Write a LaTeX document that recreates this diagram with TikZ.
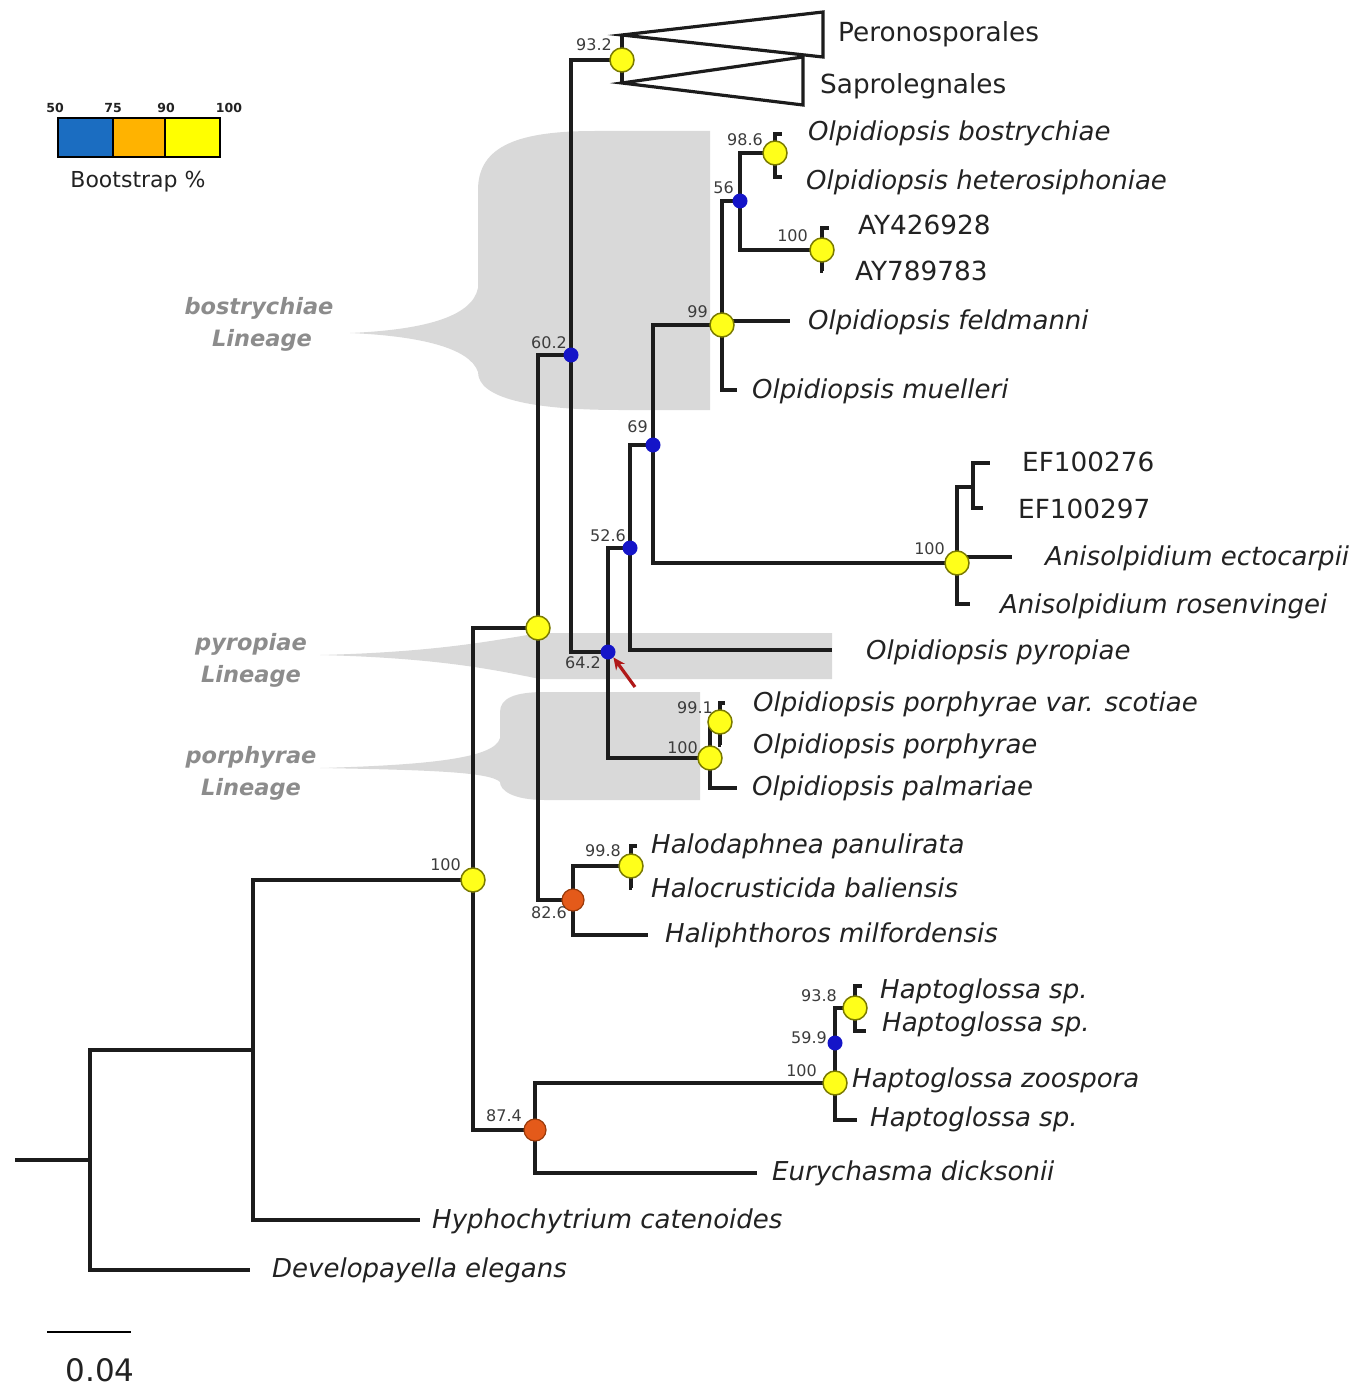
\documentclass[tikz,border=0pt]{standalone}
\usepackage{fontspec}
\setmainfont{DejaVu Sans}
\usetikzlibrary{arrows.meta}
\definecolor{lin}{HTML}{1C1C1C}
\definecolor{txt}{HTML}{222222}
\definecolor{bsg}{HTML}{3C3C3C}
\definecolor{lgshade}{HTML}{D9D9D9}
\definecolor{lingray}{HTML}{8C8C8C}
\definecolor{yel}{HTML}{FFFF1A}
\definecolor{yeld}{HTML}{7A7A00}
\definecolor{blu}{HTML}{1414C8}
\definecolor{org}{HTML}{E45A1A}
\definecolor{orgd}{HTML}{9A3A0A}
\definecolor{legblue}{HTML}{1B6DC1}
\definecolor{legorg}{HTML}{FFB300}
\definecolor{legyel}{HTML}{FFFF00}
\definecolor{arr}{HTML}{B01818}
\begin{document}
\begin{tikzpicture}[x=1pt,y=-1pt,
  br/.style={line width=3.2pt, draw=lin, line join=miter},
  lab/.style={anchor=mid west, inner sep=0pt, yshift=-6pt, text=txt, font=\fontsize{26}{30}\selectfont\itshape},
  labu/.style={anchor=mid west, inner sep=0pt, yshift=-6pt, text=txt, font=\fontsize{26.3}{30}\selectfont},
  bs/.style={anchor=mid east, inner sep=0pt, yshift=-3pt, text=bsg, font=\fontsize{16}{18}\selectfont},
  lin/.style={inner sep=0pt, yshift=-3pt, text=lingray, font=\fontsize{22.5}{26}\selectfont\bfseries\itshape},
  yc/.style={circle, fill=yel, draw=yeld, line width=1.5pt, minimum size=24pt, inner sep=0pt},
  bc/.style={circle, fill=blu, minimum size=15pt, inner sep=0pt},
  oc/.style={circle, fill=org, draw=orgd, line width=1.2pt, minimum size=22pt, inner sep=0pt}]
\useasboundingbox (0,0) rectangle (1366,1391);

% ---------- lineage shading ----------
\fill[lgshade] (350,333) .. controls (420,330) and (472,318) .. (478,288)
  -- (478,190) .. controls (478,145) and (520,131) .. (595,131) -- (710,131) -- (710,410) -- (620,410)
  .. controls (530,410) and (478,398) .. (478,372)
  .. controls (470,348) and (420,336) .. (350,333) -- cycle;
\fill[lgshade] (320,655) .. controls (440,652) and (495,640) .. (540,633) -- (832,633) -- (832,679) -- (540,679)
  .. controls (495,670) and (440,658) .. (320,655) -- cycle;
\fill[lgshade] (320,768) .. controls (430,765) and (495,758) .. (500,738) -- (500,712)
  .. controls (500,698) and (515,692) .. (545,692) -- (700,692) -- (700,800) -- (545,800)
  .. controls (512,800) and (500,790) .. (500,782) .. controls (490,772) and (430,770) .. (320,768) -- cycle;

\node[lin] (Lb1) at (259,305) {bostrychiae};
\node[lin] (Lb2) at (262,337) {Lineage};
\node[lin] (Lp1) at (251,641) {pyropiae};
\node[lin] (Lp2) at (251,673) {Lineage};
\node[lin] (Lq1) at (251,754) {porphyrae};
\node[lin] (Lq2) at (251,786) {Lineage};

% ---------- legend ----------
\fill[legblue] (58,118) rectangle (113,157);
\fill[legorg] (113,118) rectangle (165,157);
\fill[legyel] (165,118) rectangle (220,157);
\draw[line width=2.8pt] (58,118) rectangle (220,157);
\draw[line width=2.2pt] (113,118) -- (113,157) (165,118) -- (165,157);
\foreach \xx/\tt in {55/50,113/75,166/90,229/100}
  \node[inner sep=0pt, font=\fontsize{12.5}{13}\selectfont\bfseries, text=txt] at (\xx,108) {\tt};
\node[inner sep=0pt, text=txt, font=\fontsize{22}{26}\selectfont] (leg) at (138,182) {Bootstrap \%};

% ---------- coordinates ----------
\coordinate (rs) at (15,1160);
\coordinate (r) at (90,1160);
\coordinate (tDev) at (250,1270);
\coordinate (n1) at (253,1050);
\coordinate (tHyph) at (420,1220);
\coordinate (n100) at (473,880);
\coordinate (n874) at (535,1130);
\coordinate (tEury) at (757,1173);
\coordinate (nHap) at (835,1083);
\coordinate (tHsp3) at (857,1120);
\coordinate (tHzoo) at (847,1081);
\coordinate (n599) at (835,1043);
\coordinate (n938) at (855,1008);
\coordinate (tHsp1) at (862,986);
\coordinate (tHsp2) at (866,1031);
\coordinate (nY) at (538,628);
\coordinate (n826) at (573,900);
\coordinate (tHali) at (648,935);
\coordinate (n998) at (631,866);
\coordinate (tHalo1) at (637,846);
\coordinate (tHalo2) at (632,888);
\coordinate (n602) at (571,355);
\coordinate (n932) at (622,60);
\coordinate (tPer) at (622,35);
\coordinate (tSap) at (622,83);
\coordinate (n642) at (608,652);
\coordinate (n100p) at (710,758);
\coordinate (tPalm) at (737,788);
\coordinate (n991) at (720,722);
\coordinate (tScot) at (725,703);
\coordinate (tPorph) at (721,745);
\coordinate (n526) at (630,548);
\coordinate (tPyro) at (832,650);
\coordinate (n69) at (653,445);
\coordinate (nAn) at (957,563);
\coordinate (tRos) at (970,604);
\coordinate (tEct) at (1012,557);
\coordinate (nEF) at (973,487);
\coordinate (tEF1) at (990,463);
\coordinate (tEF2) at (983,508);
\coordinate (n99) at (722,325);
\coordinate (tMuel) at (737,390);
\coordinate (tFeld) at (790,321);
\coordinate (n56) at (740,201);
\coordinate (n986) at (775,153);
\coordinate (tBos) at (782,134);
\coordinate (tHet) at (782,177);
\coordinate (nAY) at (822,250);
\coordinate (tAY1) at (829,228);
\coordinate (tAY2) at (823,271);

% ---------- branches ----------
\draw[br] (rs) -- (r);
\draw[br] (r) |- (tDev);
\draw[br] (r) |- (n1);
\draw[br] (n1) |- (tHyph);
\draw[br] (n1) |- (n100);
\draw[br] (n100) |- (n874);
\draw[br] (n874) |- (tEury);
\draw[br] (n874) |- (nHap);
\draw[br] (nHap) |- (tHsp3);
\draw[br] (nHap) |- (tHzoo);
\draw[br] (nHap) |- (n599);
\draw[br] (n599) |- (n938);
\draw[br] (n938) |- (tHsp1);
\draw[br] (n938) |- (tHsp2);
\draw[br] (n100) |- (nY);
\draw[br] (nY) |- (n826);
\draw[br] (n826) |- (tHali);
\draw[br] (n826) |- (n998);
\draw[br] (n998) |- (tHalo1);
\draw[br] (n998) |- (tHalo2);
\draw[br] (nY) |- (n602);
\draw[br] (n602) |- (n932);
\draw[br] (n932) |- (tPer);
\draw[br] (n932) |- (tSap);
\draw[br] (n602) |- (n642);
\draw[br] (n642) |- (n100p);
\draw[br] (n100p) |- (tPalm);
\draw[br] (n100p) |- (n991);
\draw[br] (n991) |- (tScot);
\draw[br] (n991) |- (tPorph);
\draw[br] (n642) |- (n526);
\draw[br] (n526) |- (tPyro);
\draw[br] (n526) |- (n69);
\draw[br] (n69) |- (nAn);
\draw[br] (nAn) |- (tRos);
\draw[br] (nAn) |- (tEct);
\draw[br] (nAn) |- (nEF);
\draw[br] (nEF) |- (tEF1);
\draw[br] (nEF) |- (tEF2);
\draw[br] (n69) |- (n99);
\draw[br] (n99) |- (tMuel);
\draw[br] (n99) |- (tFeld);
\draw[br] (n99) |- (n56);
\draw[br] (n56) |- (n986);
\draw[br] (n986) |- (tBos);
\draw[br] (n986) |- (tHet);
\draw[br] (n56) |- (nAY);
\draw[br] (nAY) |- (tAY1);
\draw[br] (nAY) |- (tAY2);

% collapsed clades
\draw[br, fill=white] (tPer) -- (823,12) -- (823,57) -- cycle;
\draw[br, fill=white] (tSap) -- (803,57) -- (803,105) -- cycle;

% ---------- support markers ----------
\node[yc] (c932) at (n932) {};
\node[yc] (c986) at (n986) {};
\node[bc] (c56) at (n56) {};
\node[yc] (cAY) at (nAY) {};
\node[yc] (c99) at (n99) {};
\node[bc] (c602) at (n602) {};
\node[bc] (c69) at (n69) {};
\node[yc] (cAn) at (nAn) {};
\node[bc] (c526) at (n526) {};
\node[bc] (c642) at (n642) {};
\node[yc] (cY) at (nY) {};
\node[yc] (c991) at (n991) {};
\node[yc] (c100p) at (n100p) {};
\node[yc] (c998) at (n998) {};
\node[oc] (c826) at (n826) {};
\node[yc] (c100) at (n100) {};
\node[yc] (c938) at (n938) {};
\node[bc] (c599) at (n599) {};
\node[yc] (cHap) at (nHap) {};
\node[oc] (c874) at (n874) {};

% red arrow
\coordinate (arrtail) at (635,687);
\draw[arr, line width=3.2pt, -{Stealth[length=12pt,width=11pt]}] (arrtail) -- (c642.south east);

% ---------- bootstrap values ----------
\node[bs] (b932) at (612,45) {93.2};
\node[bs] (b986) at (763,140) {98.6};
\node[bs] (b56) at (734,188) {56};
\node[bs] (bAY) at (808,236) {100};
\node[bs] (b99) at (708,312) {99};
\node[bs] (b602) at (567,343) {60.2};
\node[bs] (b69) at (648,427) {69};
\node[bs] (bAn) at (945,549) {100};
\node[bs] (b526) at (626,536) {52.6};
\node[bs] (b642) at (601,663) {64.2};
\node[bs] (b991) at (713,708) {99.1};
\node[bs] (b100p) at (698,748) {100};
\node[bs] (b998) at (621,851) {99.8};
\node[bs] (b826) at (567,913) {82.6};
\node[bs] (b100) at (461,865) {100};
\node[bs] (b938) at (837,996) {93.8};
\node[bs] (b599) at (827,1038) {59.9};
\node[bs] (bHap) at (817,1071) {100};
\node[bs] (b874) at (522,1116) {87.4};

% ---------- tip labels ----------
\node[labu] (lPer) at (838,33) {Peronosporales};
\node[labu] (lSap) at (820,85) {Saprolegnales};
\node[lab] (lBos) at (808,132) {Olpidiopsis bostrychiae};
\node[lab] (lHet) at (806,181) {Olpidiopsis heterosiphoniae};
\node[labu] (lAY1) at (858,226) {AY426928};
\node[labu] (lAY2) at (855,272) {AY789783};
\node[lab] (lFeld) at (808,321) {Olpidiopsis feldmanni};
\node[lab] (lMuel) at (752,390) {Olpidiopsis muelleri};
\node[labu] (lEF1) at (1022,463) {EF100276};
\node[labu] (lEF2) at (1018,510) {EF100297};
\node[lab] (lEct) at (1045,557) {Anisolpidium ectocarpii};
\node[lab] (lRos) at (1000,605) {Anisolpidium rosenvingei};
\node[lab] (lPyro) at (866,651) {Olpidiopsis pyropiae};
\node[lab] (lScot) at (753,703) {Olpidiopsis porphyrae var. scotiae};
\node[lab] (lPorph) at (753,745) {Olpidiopsis porphyrae};
\node[lab] (lPalm) at (752,787) {Olpidiopsis palmariae};
\node[lab] (lHalo1) at (651,845) {Halodaphnea panulirata};
\node[lab] (lHalo2) at (651,889) {Halocrusticida baliensis};
\node[lab] (lHali) at (665,934) {Haliphthoros milfordensis};
\node[lab] (lHsp1) at (880,990) {Haptoglossa sp.};
\node[lab] (lHsp2) at (882,1023) {Haptoglossa sp.};
\node[lab] (lHzoo) at (852,1079) {Haptoglossa zoospora};
\node[lab] (lHsp3) at (870,1118) {Haptoglossa sp.};
\node[lab] (lEury) at (772,1172) {Eurychasma dicksonii};
\node[lab] (lHyph) at (432,1220) {Hyphochytrium catenoides};
\node[lab] (lDev) at (272,1269) {Developayella elegans};

% ---------- scale bar ----------
\coordinate (sb1) at (47,1332);
\coordinate (sb2) at (131,1332);
\draw[line width=2.8pt, lin] (sb1) -- (sb2);
\node[inner sep=0pt, text=txt, font=\fontsize{31}{34}\selectfont] (sbl) at (100,1370) {0.04};
\end{tikzpicture}
\end{document}
